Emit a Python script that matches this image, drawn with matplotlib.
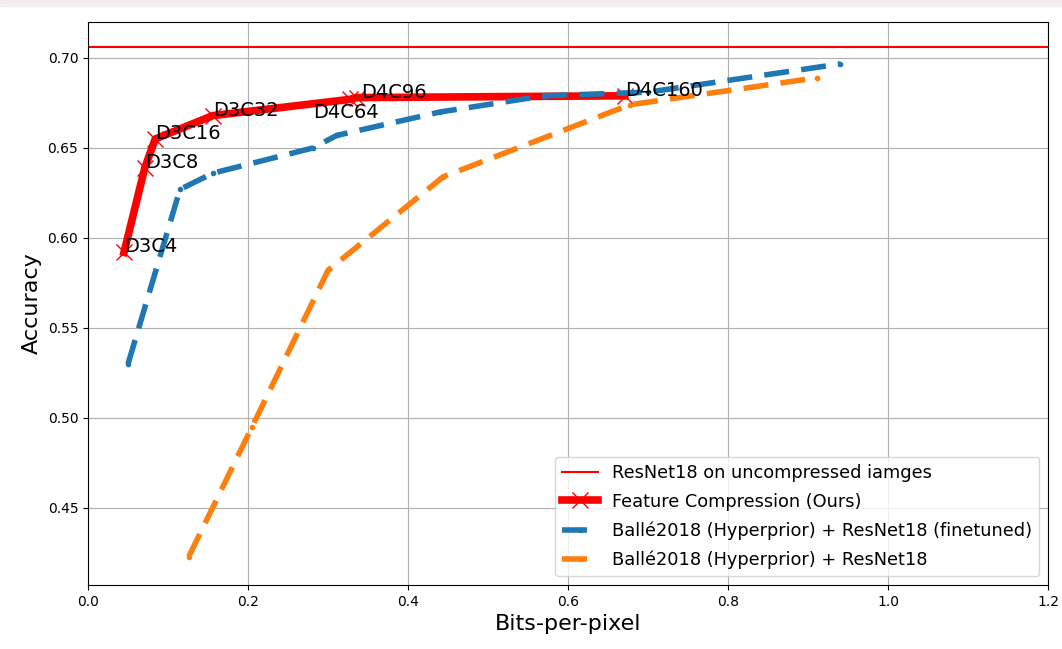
import matplotlib
matplotlib.use("Agg")
import matplotlib.pyplot as plt
from matplotlib.patches import Rectangle

# Data
baseline_acc = 0.706

ours_labels = ["D3C4", "D3C8", "D3C16", "D3C32", "D4C64", "D4C96", "D4C160"]
ours_bpp = [0.045, 0.071, 0.084, 0.156, 0.327, 0.336, 0.671]
ours_acc = [0.592, 0.639, 0.655, 0.668, 0.677, 0.678, 0.679]

ft_bpp = [0.05, 0.115, 0.156, 0.281, 0.311, 0.44, 0.57, 0.70, 0.94]
ft_acc = [0.530, 0.627, 0.636, 0.650, 0.657, 0.670, 0.679, 0.681, 0.6967]

balle_bpp = [0.126, 0.205, 0.30, 0.444, 0.677, 0.911]
balle_acc = [0.423, 0.495, 0.582, 0.634, 0.674, 0.689]

# label positions (text anchor) — D4C64 label is offset from its marker
label_offsets = {"D4C64": (-0.046, -0.0105), "D4C96": (0.006, 0.0)}

fig = plt.figure(figsize=(10.62, 6.49), dpi=100)
fig.patches.append(Rectangle((0, 1 - 6 / 649), 1, 6 / 649, transform=fig.transFigure,
                             color="#f2eef0", zorder=0))
ax = fig.add_axes([88 / 1062, 1 - 585 / 649, (1048 - 88) / 1062, (585 - 22) / 649])

ax.axhline(baseline_acc, color="red", lw=1.5, label="ResNet18 on uncompressed iamges")
ax.plot(ours_bpp, ours_acc, color="red", lw=5.5, marker="x", ms=12, mew=1,
        label="Feature Compression (Ours)")
ax.plot(ft_bpp, ft_acc, color="#1f77b4", lw=4, marker=".", ms=6,
        dashes=(4.5, 2.2), label="Ballé2018 (Hyperprior) + ResNet18 (finetuned)")
ax.plot(balle_bpp, balle_acc, color="#ff7f0e", lw=4, marker=".", ms=6,
        dashes=(4.5, 2.2), label="Ballé2018 (Hyperprior) + ResNet18")

for lab, x, y in zip(ours_labels, ours_bpp, ours_acc):
    dx, dy = label_offsets.get(lab, (0.0, 0.0))
    ax.text(x + dx, y + dy, lab, fontsize=14, color="black")

ax.set_xlim(0, 1.2)
ax.set_ylim(0.4072, 0.72)
ax.set_yticks([0.45, 0.50, 0.55, 0.60, 0.65, 0.70])
ax.grid(True, color="#b0b0b0", lw=0.8)
ax.set_xlabel("Bits-per-pixel", fontsize=16)
ax.set_ylabel("Accuracy", fontsize=16)
ax.legend(loc="lower right", fontsize=12.8, borderaxespad=0.5, labelspacing=0.6)

fig.savefig("out.png", dpi=100)
